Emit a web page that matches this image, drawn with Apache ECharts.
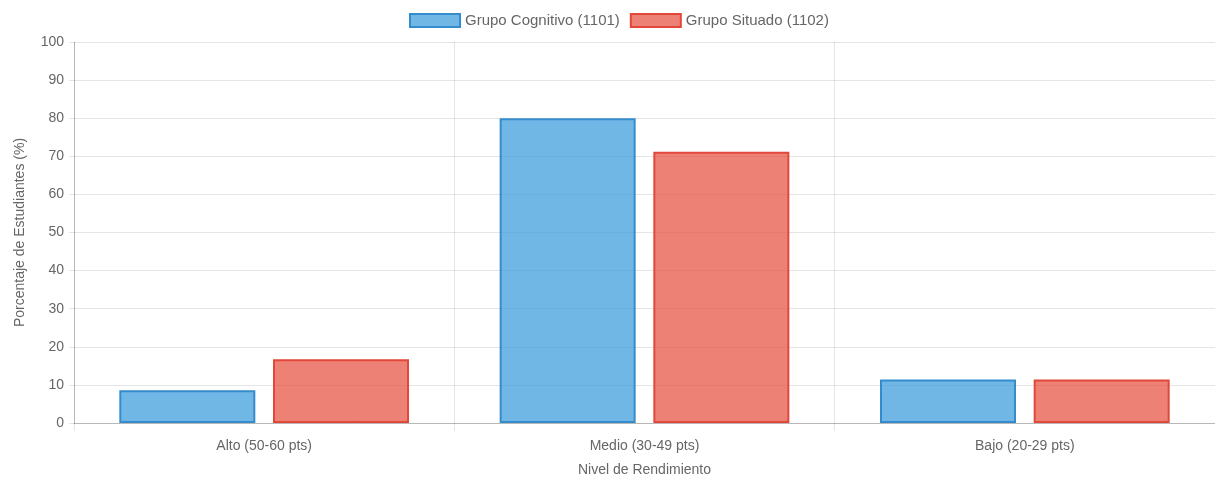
<!DOCTYPE html>
<html>
<head>
<meta charset="utf-8">
<style>
  html, body { margin: 0; padding: 0; background: #fff; overflow: hidden; }
  #chart { width: 1215px; height: 482px; }
</style>
<script src="https://cdn.jsdelivr.net/npm/echarts@6/dist/echarts.min.js"></script>
</head>
<body>
<div id="chart"></div>
<script>
// Performance levels on the category axis
const categories = ['Alto (50-60 pts)', 'Medio (30-49 pts)', 'Bajo (20-29 pts)'];

// Percentage of students per level, one array per group
const cognitivo = [8.6, 80.0, 11.4];
const situado = [16.7, 71.2, 11.4];

const seriesNames = ['Grupo Cognitivo (1101)', 'Grupo Situado (1102)'];

// Value axis: 0-100 in steps of 10
const yMin = 0;
const yMax = 100;
const yStep = 10;

const FONT = '"Liberation Sans", Arial, Helvetica, sans-serif';
const TEXT = '#666';
const GRID = 'rgba(0,0,0,0.1)';
const AXIS = 'rgba(0,0,0,0.2)';

const chart = echarts.init(document.getElementById('chart'), null, { renderer: 'canvas' });

chart.setOption({
  animation: false,
  textStyle: { fontFamily: FONT },
  legend: {
    top: 8,
    left: 404,
    icon: 'rect',
    itemWidth: 50,
    itemHeight: 13,
    itemGap: 10,
    textStyle: { color: TEXT, fontSize: 15, fontFamily: FONT },
    data: seriesNames
  },
  // plot area runs a little past the right edge of the page
  grid: { left: 74, width: 1152, top: 42, height: 387, containLabel: false },
  xAxis: {
    type: 'category',
    data: categories,
    boundaryGap: true,
    name: 'Nivel de Rendimiento',
    nameLocation: 'middle',
    nameGap: 40,
    nameTextStyle: { color: TEXT, fontSize: 14, fontFamily: FONT },
    axisLine: { show: true, lineStyle: { color: AXIS, width: 1 } },
    axisTick: { show: true, length: 8, alignWithLabel: false, lineStyle: { color: GRID } },
    axisLabel: { color: TEXT, fontSize: 14, margin: 16, fontFamily: FONT },
    splitLine: { show: true, lineStyle: { color: GRID, width: 1 } }
  },
  yAxis: {
    type: 'value',
    min: yMin,
    max: yMax,
    interval: yStep,
    name: 'Porcentaje de Estudiantes (%)',
    nameLocation: 'middle',
    nameGap: 47,
    nameTextStyle: { color: TEXT, fontSize: 14, fontFamily: FONT },
    axisLine: { show: true, lineStyle: { color: AXIS, width: 1 } },
    axisTick: { show: true, length: 5, lineStyle: { color: GRID } },
    axisLabel: { color: TEXT, fontSize: 14, margin: 10, fontFamily: FONT },
    splitLine: { show: true, lineStyle: { color: GRID, width: 1 } }
  },
  series: [
    {
      name: seriesNames[0],
      type: 'bar',
      data: cognitivo,
      barWidth: 136,
      barGap: '13%',
      itemStyle: {
        color: 'rgba(52,152,219,0.7)',
        borderColor: 'rgba(52,140,205,1)',
        borderWidth: 2
      }
    },
    {
      name: seriesNames[1],
      type: 'bar',
      data: situado,
      barWidth: 136,
      barGap: '13%',
      itemStyle: {
        color: 'rgba(231,76,60,0.7)',
        borderColor: 'rgba(225,72,58,1)',
        borderWidth: 2
      }
    }
  ]
});
</script>
</body>
</html>
